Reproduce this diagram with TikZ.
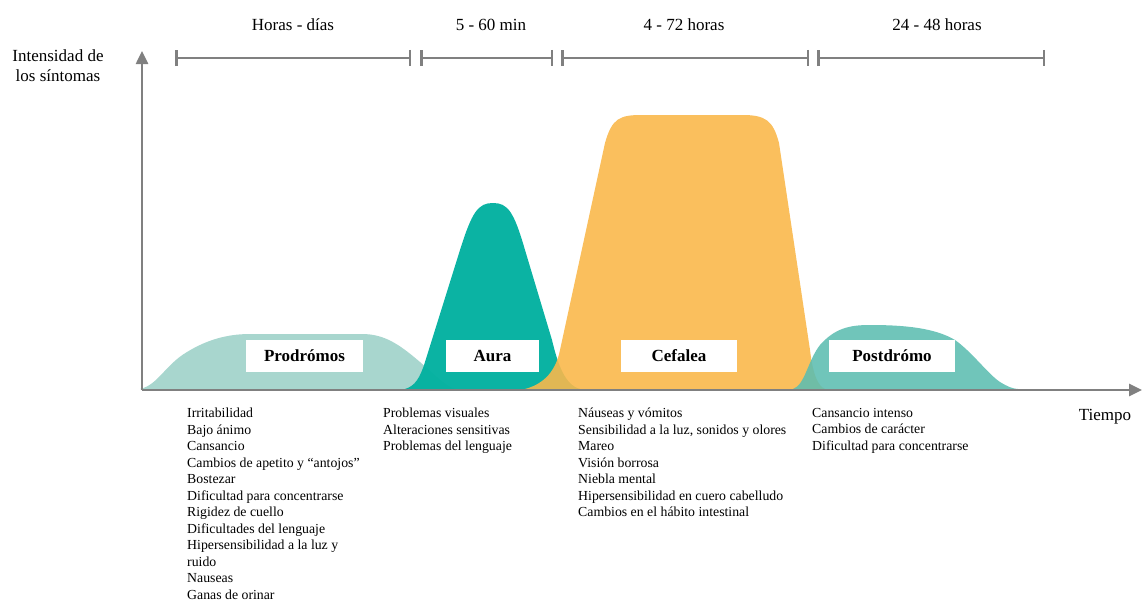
\documentclass[tikz,border=0pt]{standalone}
\usepackage{fontspec}
\setmainfont{Liberation Serif}
\usetikzlibrary{arrows.meta}
\definecolor{axisgray}{HTML}{808080}
\definecolor{prodc}{HTML}{A8D6CE}
\definecolor{aurac}{HTML}{03B1A0}
\definecolor{cefc}{HTML}{F9B84B}
\definecolor{postc}{HTML}{5CBDB1}
\tikzset{
  axisline/.style={draw=axisgray, line width=2.5pt},
  span/.style={draw=axisgray, line width=2.5pt, {Bar[width=16pt,line width=2.5pt]}-{Bar[width=16pt,line width=2.5pt]}},
  toplabel/.style={font=\fontsize{17}{20}\selectfont, anchor=base, inner sep=0pt},
  phasebox/.style={fill=white, draw=none, minimum height=32pt, inner sep=0pt, font=\fontsize{17}{20}\selectfont\bfseries},
  symlist/.style={font=\fontsize{13.8}{16.5}\selectfont, align=left, anchor=north west, inner sep=0pt},
}
\begin{document}
\begin{tikzpicture}[x=1pt,y=-1pt]
\useasboundingbox (0,0) rectangle (1142,602);
% phase curves
\fill[prodc] (140,389) .. controls (158,385) and (165,365) .. (187,352) .. controls (205,341) and (225,334) .. (250,334) -- (362,334) .. controls (385,334) and (400,345) .. (420,362) .. controls (435,375) and (445,386) .. (455,389) -- cycle;
\fill[aurac, fill opacity=0.97] (405,389) .. controls (415,386) and (420,378) .. (425,362) -- (460,250) .. controls (472,212) and (478,203) .. (493,203) .. controls (508,203) and (514,212) .. (525,250) -- (552,340) .. controls (558,365) and (565,385) .. (580,389) -- cycle;
\fill[cefc, fill opacity=0.9] (525,389) .. controls (540,385) and (555,375) .. (560,350) -- (605,143) .. controls (612,118) and (620,115) .. (642,115) -- (742,115) .. controls (765,115) and (773,120) .. (779,143) -- (810,350) .. controls (813,375) and (818,386) .. (825,389) -- cycle;
\fill[postc, fill opacity=0.88] (793,389) .. controls (805,385) and (808,360) .. (820,345) .. controls (835,328) and (850,325) .. (870,325) .. controls (905,325) and (935,328) .. (955,340) .. controls (972,352) and (988,374) .. (1000,382) .. controls (1008,387) and (1014,389) .. (1018,389) -- cycle;
% axes
\coordinate (O) at (142,390);
\coordinate (ytip) at (142,51);
\coordinate (xtip) at (1142,390);
\draw[axisline, -{Triangle[width=12pt,length=13pt]}] (O) -- (ytip);
\draw[axisline, -{Triangle[width=12pt,length=13pt]}] (O) -- (xtip);
\node[font=\fontsize{17}{20}\selectfont, align=center, inner sep=0pt] (ylab) at (58,66) {Intensidad de\\los síntomas};
\node[toplabel] (xlab) at (1105,420) {Tiempo};
% time spans
\coordinate (s1a) at (175,58); \coordinate (s1b) at (411,58);
\coordinate (s2a) at (420,58); \coordinate (s2b) at (553,58);
\coordinate (s3a) at (561,58); \coordinate (s3b) at (809,58);
\coordinate (s4a) at (817,58); \coordinate (s4b) at (1045,58);
\draw[span] (s1a) -- (s1b);
\draw[span] (s2a) -- (s2b);
\draw[span] (s3a) -- (s3b);
\draw[span] (s4a) -- (s4b);
\node[toplabel] (t1) at (293,31) {Horas - días};
\node[toplabel] (t2) at (491,31) {5 - 60 min};
\node[toplabel] (t3) at (684,31) {4 - 72 horas};
\node[toplabel] (t4) at (937,31) {24 - 48 horas};
% phase boxes
\node[phasebox, minimum width=117pt] (pro) at (304.5,356) {Prodrómos};
\node[phasebox, minimum width=93pt] (aura) at (492.5,356) {Aura};
\node[phasebox, minimum width=116pt] (cef) at (679,356) {Cefalea};
\node[phasebox, minimum width=126pt] (post) at (892,356) {Postdrómo};
% symptom lists
\node[symlist] (l1) at (187,408) {Irritabilidad\\Bajo ánimo\\Cansancio\\Cambios de apetito y “antojos”\\Bostezar\\Dificultad para concentrarse\\Rigidez de cuello\\Dificultades del lenguaje\\Hipersensibilidad a la luz y\\ruido\\Nauseas\\Ganas de orinar};
\node[symlist] (l2) at (383,408) {Problemas visuales\\Alteraciones sensitivas\\Problemas del lenguaje};
\node[symlist] (l3) at (578,408) {Náuseas y vómitos\\Sensibilidad a la luz, sonidos y olores\\Mareo\\Visión borrosa\\Niebla mental\\Hipersensibilidad en cuero cabelludo\\Cambios en el hábito intestinal};
\node[symlist] (l4) at (812,408) {Cansancio intenso\\Cambios de carácter\\Dificultad para concentrarse};
\end{tikzpicture}
\end{document}
